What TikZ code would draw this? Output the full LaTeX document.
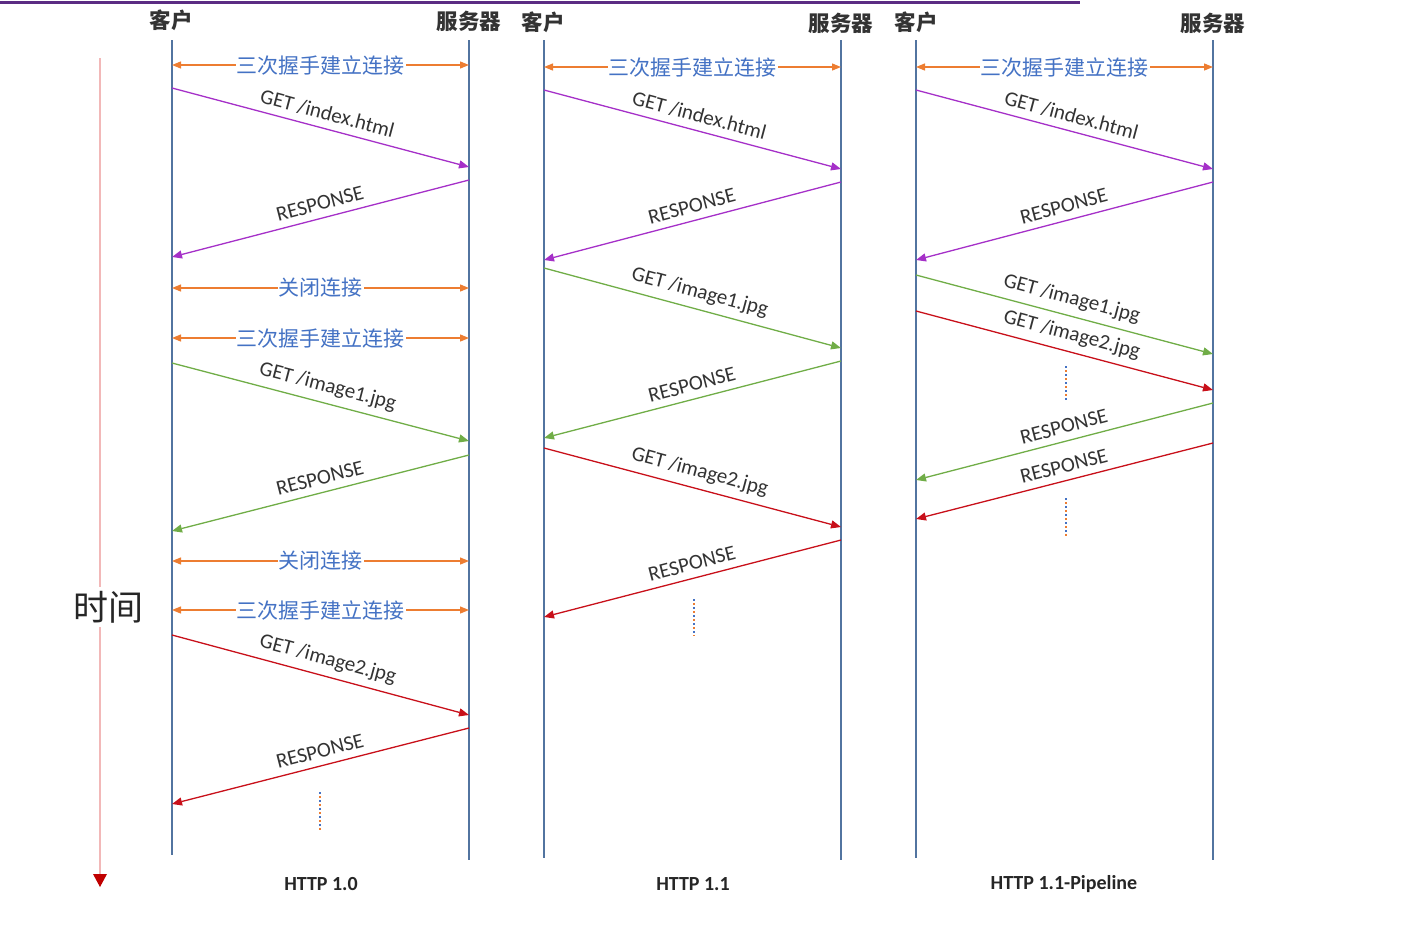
\documentclass[tikz,border=0pt]{standalone}
\usepackage{fontspec}
\setmainfont{Carlito}
\newfontfamily\cjk{Noto Sans CJK SC}
\usetikzlibrary{arrows.meta}
\definecolor{life}{HTML}{5274A0}
\definecolor{hsor}{HTML}{ED7D31}
\definecolor{hsblue}{HTML}{4472C4}
\definecolor{pur}{HTML}{A530C8}
\definecolor{grn}{HTML}{70AD47}
\definecolor{rd}{HTML}{C8101A}
\definecolor{topline}{HTML}{5B2C83}
\definecolor{timel}{HTML}{F2B8B8}
\definecolor{timeh}{HTML}{C00000}
\tikzset{
  lifeline/.style={life, line width=1.8pt},
  hdr/.style={font=\cjk\bfseries\fontsize{21.5}{22}\selectfont, text=black!80, inner sep=0pt},
  hs/.style={hsor, line width=1.3pt, {Triangle[length=9pt,width=7pt]}-{Triangle[length=9pt,width=7pt]}},
  hslbl/.style={fill=white, text=hsblue, font=\cjk\fontsize{21}{22}\selectfont, inner sep=1pt},
  msg/.style={line width=1.3pt, -{Triangle[length=10pt,width=8pt]}},
  rsp/.style={line width=1.3pt, {Triangle[length=10pt,width=8pt]}-},
  lbl/.style={font=\fontsize{21}{22}\selectfont, text=black!80, sloped, above=5pt, inner sep=2pt},
  proto/.style={font=\bfseries\fontsize{20}{21}\selectfont, text=black!85},
  dotsb/.style={hsblue, line width=2.6pt, dash pattern=on 2pt off 6pt},
  dotso/.style={hsor, line width=2.6pt, dash pattern=on 0pt off 4pt on 2pt off 2pt},
}
\newcommand\lifelinepair[5]{% name, xc, xs, ybotc, ybots
  \coordinate (#1ct) at (#2,40); \coordinate (#1cb) at (#2,#4);
  \coordinate (#1st) at (#3,40); \coordinate (#1sb) at (#3,#5);
  \draw[lifeline] (#1ct) -- (#1cb);
  \draw[lifeline] (#1st) -- (#1sb);}
\newcommand\handshake[5]{% name, x1, x2, y, text
  \coordinate (#1a) at (#2,#4); \coordinate (#1b) at (#3,#4);
  \draw[hs] (#1a) -- node[hslbl]{#5} (#1b);}
\newcommand\req[7]{% name,color,x1,y1,x2,y2,label
  \coordinate (#1a) at (#3,#4); \coordinate (#1b) at (#5,#6);
  \draw[msg,#2] (#1a) -- node[lbl,pos=0.51]{#7} (#1b);}
\newcommand\resp[7]{% name,color,xserver,yserver,xclient,yclient,label
  \coordinate (#1a) at (#5,#6); \coordinate (#1b) at (#3,#4);
  \draw[rsp,#2] (#1a) -- node[lbl,pos=0.51]{#7} (#1b);}
\newcommand\dotcol[4]{% name,x,y1,y2
  \coordinate (#1a) at (#2,#3); \coordinate (#1b) at (#2,#4);
  \draw[dotsb] (#1a) -- (#1b); \draw[dotso] (#1a) -- (#1b);}
\begin{document}
\begin{tikzpicture}[x=1pt,y=-1pt]
\useasboundingbox (0,0) rectangle (1418,938);
% top line
\coordinate (tl1) at (0,2.5); \coordinate (tl2) at (1080,2.5);
\draw[topline, line width=3pt] (tl1) -- (tl2);
% headers
\node[hdr] (h1c) at (171,20) {客户};
\node[hdr] (h1s) at (469,21) {服务器};
\node[hdr] (h2c) at (543,22) {客户};
\node[hdr] (h2s) at (841,23) {服务器};
\node[hdr] (h3c) at (916,22) {客户};
\node[hdr] (h3s) at (1213,23) {服务器};
% lifelines
\lifelinepair{L1}{172}{469}{855}{860}
\lifelinepair{L2}{544}{841}{858}{860}
\lifelinepair{L3}{916}{1213}{858}{860}
% ---- HTTP 1.0
\handshake{A1}{172}{469}{65}{三次握手建立连接}
\req{A2}{pur}{172}{88}{469}{167}{GET /index.html}
\resp{A3}{pur}{469}{180}{172}{257}{RESPONSE}
\handshake{A4}{172}{469}{288}{关闭连接}
\handshake{A5}{172}{469}{338}{三次握手建立连接}
\req{A6}{grn}{172}{363}{469}{441}{GET /image1.jpg}
\resp{A7}{grn}{469}{455}{172}{531}{RESPONSE}
\handshake{A8}{172}{469}{561}{关闭连接}
\handshake{A9}{172}{469}{610}{三次握手建立连接}
\req{A10}{rd}{172}{635}{469}{715}{GET /image2.jpg}
\resp{A11}{rd}{469}{728}{172}{804}{RESPONSE}
\dotcol{D1}{320}{792}{830}
% ---- HTTP 1.1
\handshake{B1}{544}{841}{67}{三次握手建立连接}
\req{B2}{pur}{544}{90}{841}{169}{GET /index.html}
\resp{B3}{pur}{841}{182}{544}{260}{RESPONSE}
\req{B4}{grn}{544}{268}{841}{348}{GET /image1.jpg}
\resp{B5}{grn}{841}{361}{544}{438}{RESPONSE}
\req{B6}{rd}{544}{448}{841}{527}{GET /image2.jpg}
\resp{B7}{rd}{841}{540}{544}{617}{RESPONSE}
\dotcol{D2}{694}{599}{636}
% ---- HTTP 1.1 Pipeline
\handshake{C1}{916}{1213}{67}{三次握手建立连接}
\req{C2}{pur}{916}{90}{1213}{169}{GET /index.html}
\resp{C3}{pur}{1213}{182}{916}{260}{RESPONSE}
\req{C4}{grn}{916}{275}{1213}{354}{GET /image1.jpg}
\req{C5}{rd}{916}{311}{1213}{390}{GET /image2.jpg}
\dotcol{D3}{1066}{366}{400}
\resp{C6}{grn}{1213}{403}{916}{480}{RESPONSE}
\resp{C7}{rd}{1213}{443}{916}{519}{RESPONSE}
\dotcol{D4}{1066}{498}{536}
% time axis
\coordinate (T0) at (100,58); \coordinate (T1) at (100,886);
\draw[timel, line width=1.2pt] (T0) -- (T1);
\node[fill=white, inner sep=4pt, font=\cjk\fontsize{35}{36}\selectfont, text=black!85] (TL) at (108,607) {时间};
\fill[timeh] (93,874) -- (107,874) -- (100,887) -- cycle;
% protocol labels
\node[proto] (P1) at (321,884) {HTTP 1.0};
\node[proto] (P2) at (693,884) {HTTP 1.1};
\node[proto] (P3) at (1064,884) {HTTP 1.1-Pipeline};
\end{tikzpicture}
\end{document}
